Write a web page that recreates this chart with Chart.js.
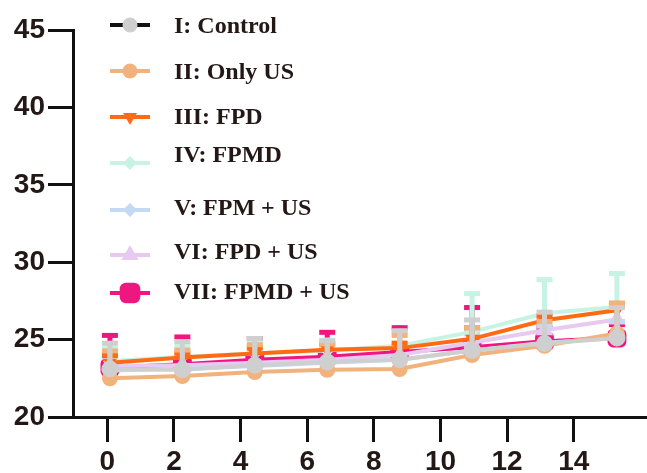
<!DOCTYPE html>
<html>
<head>
<meta charset="utf-8">
<script src="https://cdn.jsdelivr.net/npm/chart.js@4/dist/chart.umd.min.js"></script>
<style>
html,body{margin:0;padding:0;background:#fff;}
#wrap{position:relative;width:647px;height:473px;}
</style>
</head>
<body>
<div id="wrap"><canvas id="c"></canvas></div>
<script>
// ---- data ----
const days = [0, 2, 4, 6, 8, 10, 12, 14];
const xTickLabels = [0, 2, 4, 6, 8, 10, 12, 14];
const yTickLabels = [20, 25, 30, 35, 40, 45];
const seriesNames = ['I: Control', 'II: Only US', 'III: FPD', 'IV: FPMD', 'V: FPM + US', 'VI: FPD + US', 'VII: FPMD + US'];

const control    = [23.1, 23.05, 23.35, 23.55, 23.7, 24.3, 24.75, 25.1];
const controlErr = [1.8, 1.95, 1.85, 1.5, 2.0, 2.1, 2.15, 2.1];
const onlyUS     = [22.5, 22.65, 22.9, 23.05, 23.1, 24.0, 24.6, 25.4];
const onlyUSErr  = [1.9, 1.8, 1.9, 1.8, 2.3, 1.9, 1.7, 2.1];
const fpd        = [23.5, 23.85, 24.1, 24.35, 24.45, 25.05, 26.25, 26.9];
const fpdErr     = [0.6, 0.4, 0.5, 0.5, 0.45, 0.85, 0.4, 0.5];
const fpmd       = [23.6, 23.9, 24.1, 24.3, 24.6, 25.5, 26.7, 27.1];
const fpmdErr    = [1.0, 0.8, 0.8, 0.8, 1.0, 2.6, 2.3, 2.3];
const fpmUS      = [23.0, 23.1, 23.3, 23.5, 23.7, 24.3, 24.8, 25.1];
const fpmUSErr   = [1.0, 1.0, 1.0, 1.0, 1.0, 1.2, 1.2, 1.2];
const fpdUS      = [23.3, 23.35, 23.5, 23.7, 24.0, 24.8, 25.6, 26.3];
const fpdUSErr   = [0.8, 0.8, 0.8, 0.8, 0.8, 1.0, 1.0, 1.0];
const fpmdUS     = [23.2, 23.4, 23.7, 23.9, 24.2, 24.5, 24.9, 25.1];
const fpmdUSErr  = [2.2, 1.9, 1.5, 1.7, 1.7, 2.7, 1.0, 1.0];

// ---- styling ----
const styles = [
  {color:'#cfcfcf', legendLine:'#111111', point:'circle', r:8.5, rot:0, lr:7.5},
  {color:'#f2b27c', legendLine:'#f2b27c', point:'circle', r:8, rot:0, lr:7.5},
  {color:'#ff6a13', legendLine:'#ff6a13', point:'triangle', r:8, rot:180, lr:8},
  {color:'#c6f3e3', legendLine:'#c6f3e3', point:'rectRot', r:7, rot:0, lr:7},
  {color:'#c4d9f4', legendLine:'#c4d9f4', point:'rectRot', r:7, rot:0, lr:7},
  {color:'#e8c9f2', legendLine:'#e8c9f2', point:'triangle', r:10, rot:0, lr:10},
  {color:'#f0167f', legendLine:'#f0167f', point:'rectRounded', r:11, rot:0, lr:12}
];
const values = [control, onlyUS, fpd, fpmd, fpmUS, fpdUS, fpmdUS];
const errors = [controlErr, onlyUSErr, fpdErr, fpmdErr, fpmUSErr, fpdUSErr, fpmdUSErr];
const legendTextY = [27, 73, 118, 156, 209, 253, 293];
const legendLineY = [25, 71, 117, 163, 210, 255, 293];

const datasets = values.map((vals, i) => ({
  label: seriesNames[i],
  data: days.map((d, k) => ({x: d, y: vals[k]})),
  err: errors[i],
  xAxisID: 'xd',
  yAxisID: 'y',
  borderColor: styles[i].color,
  backgroundColor: styles[i].color,
  borderWidth: 4,
  pointStyle: styles[i].point,
  pointRadius: styles[i].r,
  pointRotation: styles[i].rot,
  pointBorderWidth: 0,
  pointBackgroundColor: styles[i].color,
  tension: 0
}));

const errorBars = {
  id: 'errorBars',
  beforeDatasetDraw(chart, args) {
    const ds = chart.data.datasets[args.index];
    const meta = args.meta;
    const ys = chart.scales.y;
    const ctx = chart.ctx;
    ctx.save();
    ctx.strokeStyle = ds.borderColor;
    ctx.lineWidth = 5;
    ctx.lineCap = 'butt';
    meta.data.forEach((el, k) => {
      const v = ds.data[k].y;
      const top = ys.getPixelForValue(v + ds.err[k]);
      ctx.beginPath();
      ctx.moveTo(el.x, el.y);
      ctx.lineTo(el.x, top);
      ctx.stroke();
      ctx.beginPath();
      ctx.moveTo(el.x - 8, top + 2);
      ctx.lineTo(el.x + 8, top + 2);
      ctx.stroke();
    });
    ctx.restore();
  }
};

const legendPlugin = {
  id: 'customLegend',
  afterDraw(chart) {
    const ctx = chart.ctx;
    ctx.save();
    chart.data.datasets.forEach((ds, i) => {
      const ly = legendLineY[i];
      const st = styles[i];
      ctx.strokeStyle = st.legendLine;
      ctx.lineWidth = 4;
      ctx.beginPath();
      ctx.moveTo(110, ly);
      ctx.lineTo(150, ly);
      ctx.stroke();
      ctx.fillStyle = st.color;
      Chart.helpers.drawPoint(ctx, {pointStyle: st.point, radius: st.lr, rotation: st.rot, borderWidth: 0}, 130, ly);
      ctx.fillStyle = '#231815';
      ctx.font = 'bold 24px "Liberation Serif"';
      ctx.textBaseline = 'middle';
      ctx.textAlign = 'left';
      ctx.fillText(seriesNames[i], 174, legendTextY[i]);
    });
    ctx.restore();
  }
};

new Chart(document.getElementById('c'), {
  type: 'line',
  data: {datasets},
  plugins: [errorBars, legendPlugin],
  options: {
    responsive: true,
    maintainAspectRatio: false,
    animation: false,
    layout: {autoPadding: false, padding: {top: 30, right: 0, left: 0, bottom: 0}},
    plugins: {legend: {display: false}, tooltip: {enabled: false}},
    scales: {
      xd: {
        type: 'linear', display: false, position: 'bottom',
        min: -1.02, max: 14.83
      },
      x: {
        type: 'linear', position: 'bottom',
        min: -1.03, max: 16.2,
        afterBuildTicks: s => { s.ticks = xTickLabels.map(v => ({value: v})); },
        afterFit: s => { s.height = 56; },
        border: {display: true, color: '#111', width: 3},
        grid: {display: true, drawOnChartArea: false, drawTicks: true, tickLength: 25, tickWidth: 3, tickColor: '#111', color: '#111', lineWidth: 3},
        ticks: {color: '#231815', padding: 3, maxRotation: 0, autoSkip: false,
          font: {family: '"Liberation Sans"', weight: 'bold', size: 28}}
      },
      y: {
        type: 'linear', position: 'left',
        min: 20, max: 45,
        afterBuildTicks: s => { s.ticks = yTickLabels.map(v => ({value: v})); },
        afterFit: s => { s.width = 73; },
        border: {display: true, color: '#111', width: 3},
        grid: {display: true, drawOnChartArea: false, drawTicks: true, tickLength: 25, tickWidth: 3, tickColor: '#111', color: '#111', lineWidth: 3},
        ticks: {color: '#231815', padding: 3, autoSkip: false,
          font: {family: '"Liberation Sans"', weight: 'bold', size: 28}}
      }
    }
  }
});
</script>
</body>
</html>
